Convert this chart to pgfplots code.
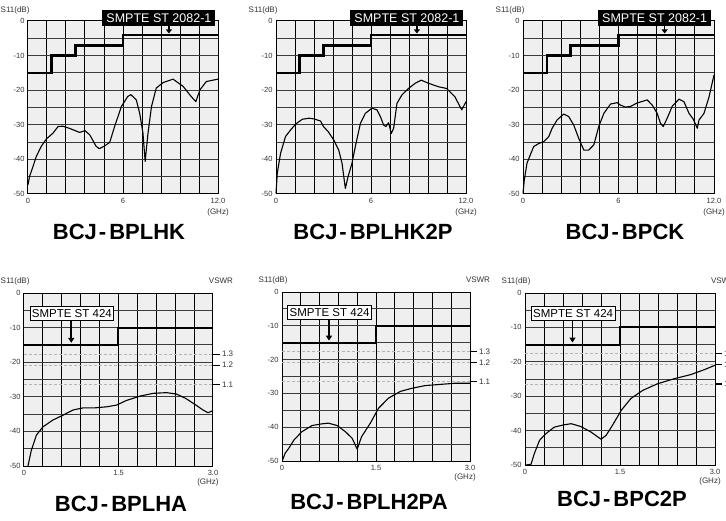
\documentclass[border=0pt]{standalone}
\usepackage{fontspec}
\setmainfont{Liberation Sans}
\usepackage{pgfplots}
\pgfplotsset{compat=1.18}
\usetikzlibrary{arrows.meta}
\definecolor{bgc}{RGB}{239,239,239}
\definecolor{labc}{RGB}{50,50,50}
\definecolor{hgrid}{RGB}{60,60,60}
\definecolor{dashc}{RGB}{180,180,180}
\newcommand{\tfont}{\fontsize{7.5}{8}\selectfont}
\pgfplotsset{
  base/.style={scale only axis, anchor=south west, ymin=-50, ymax=0,
    ytick={-50,-45,...,0},
    yticklabels={-50,,-40,,-30,,-20,,-10,,0},
    grid=major, major tick length=0pt,
    x grid style={black, line width=1pt},
    y grid style={hgrid, line width=1pt},
    axis background/.style={fill=bgc},
    axis line style={line width=1pt, black},
    tick label style={font=\tfont, text=labc},
    xticklabel style={yshift=-1pt},
    clip=false},
  top/.style={base, xmin=0, xmax=12,
    xtick={0,1.2,2.4,3.6,4.8,6,7.2,8.4,9.6,10.8,12},
    xticklabels={0,,,,,6,,,,,12.0}},
  bot/.style={base, xmin=0, xmax=3,
    xtick={0,0.3,0.6,0.9,1.2,1.5,1.8,2.1,2.4,2.7,3},
    xticklabels={0,,,,,1.5,,,,,3.0}},
  curve/.style={black, line width=1.1pt, line join=round},
  lim/.style={black, solid, line width=2pt, line join=miter},
}
\newcommand{\toplimit}{%
  \addplot[black, line width=2.6pt, line join=miter] coordinates {(0,-15)(1.5,-15)(1.5,-10)(3,-10)(3,-7)(6,-7)(6,-4)(12,-4)};
  \node[fill=black, text=white, inner xsep=4pt, inner ysep=0pt, minimum height=16pt, font=\fontsize{12.5}{13}\selectfont] at (axis cs:8.27,0.9) {SMPTE ST 2082-1};
  \draw[line width=1.3pt, -{Triangle[width=6pt,length=4pt]}] (axis cs:8.9,1.2) -- (axis cs:8.9,-3.6);
  \node[font=\fontsize{8}{9}\selectfont, text=labc, anchor=base east] at ([xshift=5pt,yshift=8pt]rel axis cs:0,1) {S11(dB)};
  \node[font=\fontsize{8}{9}\selectfont, text=labc] at ([xshift=0pt,yshift=-18pt]rel axis cs:1,0) {(GHz)};
}
\newcommand{\vtick}[2]{%
  \draw[line width=1.1pt] (axis cs:3,#1) -- ([xshift=7pt]axis cs:3,#1) node[right, inner sep=1.5pt, font=\fontsize{8}{9}\selectfont, text=labc] {#2};}
\newcommand{\botlimit}{%
  \addplot[dashc, line width=0.8pt, dash pattern=on 3pt off 2pt] coordinates {(0,-17.69)(3,-17.69)};
  \addplot[dashc, line width=0.8pt, dash pattern=on 3pt off 2pt] coordinates {(0,-20.83)(3,-20.83)};
  \addplot[dashc, line width=0.8pt, dash pattern=on 3pt off 2pt] coordinates {(0,-26.44)(3,-26.44)};
  \addplot[lim] coordinates {(0,-15)(1.5,-15)(1.5,-10)(3,-10)};
  \vtick{-17.69}{1.3}
  \vtick{-20.83}{1.2}
  \vtick{-26.44}{1.1}
  \node[fill=white, draw=black, line width=0.8pt, inner xsep=2pt, inner ysep=0pt, minimum height=14pt, font=\fontsize{11.5}{12}\selectfont] at (axis cs:0.76,-6) {SMPTE ST 424};
  \draw[line width=1.5pt, -{Triangle[width=6pt,length=5pt]}] (axis cs:0.75,-8.2) -- (axis cs:0.75,-14.4);
  \node[font=\fontsize{8}{9}\selectfont, text=labc, anchor=base east] at ([xshift=9pt,yshift=10pt]rel axis cs:0,1) {S11(dB)};
  \node[font=\fontsize{8}{9}\selectfont, text=labc, anchor=base] at ([xshift=8pt,yshift=10pt]rel axis cs:1,1) {VSWR};
  \node[font=\fontsize{8}{9}\selectfont, text=labc] at ([xshift=-5pt,yshift=-16pt]rel axis cs:1,0) {(GHz)};
}
\newcommand{\ttl}[2]{\node[font=\fontsize{22}{23}\bfseries\selectfont] at #1 {#2};}
\begin{document}
\begin{tikzpicture}
\useasboundingbox (0pt,0pt) rectangle (726pt,520pt);
% ---------- top row ----------
\begin{axis}[top, at={(28pt,326pt)}, width=190pt, height=173pt]
\toplimit
\addplot[curve] coordinates {(0,-47.3)(0.1,-44.9)(0.32,-42)(0.53,-39.1)(0.84,-36.2)(1.16,-34.1)(1.58,-32.4)(1.9,-30.5)(2.2,-30.4)(2.6,-31)(3.26,-32.2)(3.6,-31.7)(3.9,-32.9)(4.3,-36.2)(4.5,-36.9)(4.8,-36.2)(5.16,-35.1)(5.47,-30.5)(5.9,-24.7)(6.3,-21.8)(6.5,-21.3)(6.84,-22.8)(7.05,-26.6)(7.26,-32.4)(7.4,-40.6)(7.58,-32.4)(7.8,-24.7)(8.1,-19.4)(8.53,-17.8)(9.16,-16.8)(9.8,-18.9)(10.3,-21.8)(10.6,-23.3)(10.86,-19.9)(11.26,-17.5)(12,-16.8)};
\end{axis}
\begin{axis}[top, at={(276pt,326pt)}, width=190pt, height=173pt]
\toplimit
\addplot[curve] coordinates {(0,-49.8)(0.08,-44)(0.29,-38.2)(0.6,-33.4)(0.92,-31.5)(1.24,-29.8)(1.66,-28.4)(2.08,-28.1)(2.4,-28.3)(2.81,-28.9)(3.0,-30.5)(3.3,-32)(3.65,-34.4)(3.96,-37.3)(4.17,-41.1)(4.38,-48.4)(4.55,-45)(4.8,-41.1)(5.01,-36.3)(5.33,-29.6)(5.64,-26.7)(6.06,-25.2)(6.38,-25.7)(6.59,-27.6)(6.8,-30.1)(6.94,-30.5)(7.11,-29.4)(7.28,-32.5)(7.43,-31.0)(7.64,-23.8)(7.95,-21.4)(8.37,-19.5)(8.79,-18.0)(9.17,-17.1)(9.63,-18.0)(10.26,-19.0)(10.78,-19.5)(11.3,-21.9)(11.73,-25.7)(12,-23.3)};
\end{axis}
\begin{axis}[top, at={(523pt,326pt)}, width=191pt, height=173pt]
\toplimit
\addplot[curve] coordinates {(0,-49.8)(0.08,-46)(0.25,-41.1)(0.46,-38.7)(0.67,-36.3)(0.99,-35.4)(1.3,-34.9)(1.62,-33.4)(1.83,-31)(2.14,-28.6)(2.56,-26.9)(2.87,-27.6)(3.19,-30.1)(3.5,-33.9)(3.82,-37.3)(4.13,-37.3)(4.45,-35.8)(4.76,-30.5)(5.08,-26.7)(5.5,-24)(5.92,-23.6)(6.12,-24.3)(6.44,-24.9)(6.75,-24.7)(7.17,-23.7)(7.8,-22.8)(8.12,-24.3)(8.43,-26.7)(8.64,-29.6)(8.81,-30.5)(9.06,-28.1)(9.38,-24.6)(9.8,-22.6)(10.11,-23.3)(10.43,-26.7)(10.7,-28.4)(10.95,-31.0)(11.06,-28.6)(11.37,-26.7)(11.69,-21.9)(12,-15.6)};
\end{axis}
% ---------- bottom row ----------
\begin{axis}[bot, at={(24pt,54pt)}, width=189pt, height=173pt]
\botlimit
\addplot[curve] coordinates {(0.063,-50)(0.116,-45.5)(0.196,-41.1)(0.30,-38.7)(0.46,-36.7)(0.62,-35.3)(0.78,-33.8)(0.94,-33.2)(1.12,-33.2)(1.31,-32.9)(1.47,-32.4)(1.62,-31.1)(1.84,-29.8)(2.05,-29.0)(2.26,-28.8)(2.42,-29.2)(2.57,-30.5)(2.73,-32.4)(2.84,-33.8)(2.92,-34.6)(3.0,-34.0)};
\end{axis}
\begin{axis}[bot, at={(282pt,59pt)}, width=188pt, height=169pt]
\botlimit
\addplot[curve] coordinates {(0.01,-49.7)(0.05,-47.7)(0.11,-46.2)(0.19,-43.8)(0.32,-41.3)(0.48,-39.5)(0.64,-39.0)(0.74,-38.8)(0.88,-39.5)(1.01,-41.3)(1.12,-43.3)(1.2,-46.5)(1.27,-42.8)(1.41,-38.8)(1.54,-34.4)(1.7,-31.4)(1.89,-29.4)(2.07,-28.5)(2.28,-27.7)(2.55,-27.3)(2.76,-27.0)(3.0,-27.0)};
\end{axis}
\begin{axis}[bot, at={(525pt,55pt)}, width=190pt, height=172pt]
\botlimit
\addplot[curve] coordinates {(0.016,-50)(0.095,-49.8)(0.147,-46.7)(0.23,-42.8)(0.33,-40.9)(0.46,-39)(0.62,-38.3)(0.73,-38)(0.88,-38.8)(1.04,-40.4)(1.2,-42.5)(1.28,-41.4)(1.38,-38.5)(1.52,-34.1)(1.67,-30.7)(1.86,-28.3)(2.09,-26.4)(2.36,-24.9)(2.62,-23.7)(2.83,-22.3)(3.0,-21.0)};
\end{axis}
% ---------- titles ----------
\ttl{(119pt,288pt)}{BCJ\hspace{2pt}-\hspace{3pt}BPLHK}
\ttl{(373pt,288pt)}{BCJ\hspace{2pt}-\hspace{3pt}BPLHK2P}
\ttl{(625pt,288pt)}{BCJ\hspace{2pt}-\hspace{3pt}BPCK}
\ttl{(121pt,16pt)}{BCJ\hspace{2pt}-\hspace{3pt}BPLHA}
\ttl{(369pt,18pt)}{BCJ\hspace{2pt}-\hspace{3pt}BPLH2PA}
\ttl{(622pt,21pt)}{BCJ\hspace{2pt}-\hspace{3pt}BPC2P}
\end{tikzpicture}
\end{document}
